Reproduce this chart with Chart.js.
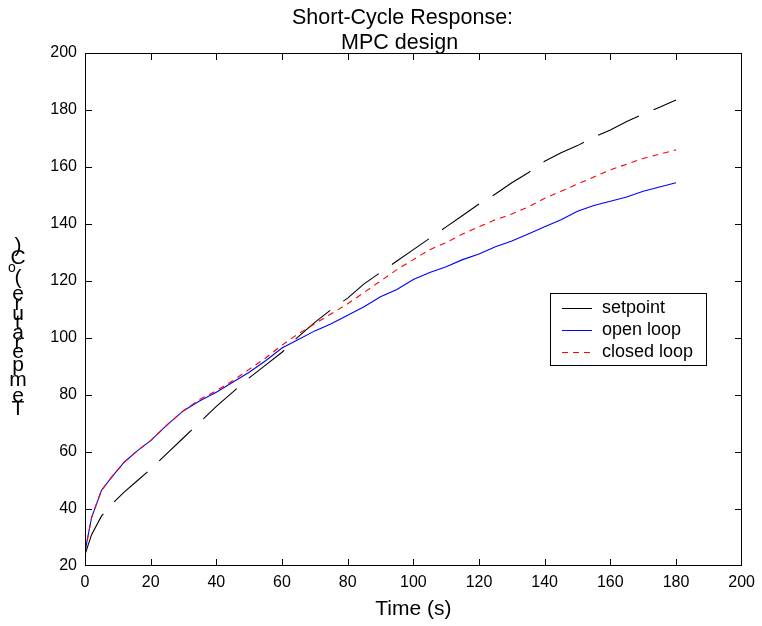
<!DOCTYPE html>
<html>
<head>
<meta charset="utf-8">
<script src="https://cdn.jsdelivr.net/npm/chart.js@4/dist/chart.umd.min.js"></script>
<style>
  html, body { margin: 0; padding: 0; background: #fff; }
  #wrap { width: 762px; height: 626px; }
</style>
</head>
<body>
<div id="wrap"><canvas id="c" width="762" height="626"></canvas></div>
<script>
// ---- data ----
const titleLines = ["Short-Cycle Response:", "MPC design"];
const xLabel = "Time (s)";
const yLabelParts = ["Temperature (", "o", "C)"]; // "o" is superscript
const seriesNames = ["setpoint", "open loop", "closed loop"];
const time = [0,2,5,8,12,16,20,25,30,35,40,45,50,55,60,65,70,75,80,85,90,95,100,105,110,115,120,125,130,135,140,145,150,155,160,165,170,175,180];
const setpoint = [24,31,37.5,41.5,46,50,54,59.5,65,70.5,76,81,86,90.5,95,100.5,105.5,110,114,119,123,127,131,135,139,143,147,150.5,154.5,158,162,165,167.5,170.5,173,176,178.5,181,183.5];
const openLoop = [25,37,46.5,51,56.5,60.5,64,69.5,74.5,78,81,84.5,88,92,96.5,99.5,102.5,105,108,111,114.5,117,120.5,123,125,127.5,129.5,132,134,136.5,139,141.5,144.5,146.5,148,149.5,151.5,153,154.5];
const closedLoop = [25,37,46.5,51,56.5,60.5,64,69.5,74.5,78.5,81.5,85,89,93,97.5,101.5,105,108.5,112,116,120,124,127.5,131,133.5,136.5,139,141.5,143.5,146,149,151.5,154,156.5,159,161,163,164.5,166];
const xTicks = [0,20,40,60,80,100,120,140,160,180,200];
const yTicks = [20,40,60,80,100,120,140,160,180,200];

const FONT = '"Liberation Sans", Arial, sans-serif';
const pts = (ys) => time.map((t, i) => ({ x: t, y: ys[i] }));

const framePlugin = {
  id: 'frame',
  afterDraw(chart) {
    const ctx = chart.ctx;
    const a = chart.chartArea;
    const xs = chart.scales.x, ys = chart.scales.y;
    const L = Math.round(a.left) + 0.5, R = Math.round(a.right) - 0.5;
    const T = Math.round(a.top) + 0.5, B = Math.round(a.bottom) - 0.5;
    ctx.save();
    ctx.strokeStyle = '#000';
    ctx.lineWidth = 1;
    ctx.setLineDash([]);
    ctx.strokeRect(L, T, R - L, B - T);
    const tl = 6.5;
    ctx.beginPath();
    xTicks.forEach(v => {
      let px = Math.round(xs.getPixelForValue(v)) + 0.5;
      px = Math.max(L, Math.min(R, px));
      ctx.moveTo(px, B); ctx.lineTo(px, B - tl);
      ctx.moveTo(px, T); ctx.lineTo(px, T + tl);
    });
    yTicks.forEach(v => {
      let py = Math.round(ys.getPixelForValue(v)) + 0.5;
      py = Math.max(T, Math.min(B, py));
      ctx.moveTo(L, py); ctx.lineTo(L + tl, py);
      ctx.moveTo(R, py); ctx.lineTo(R - tl, py);
    });
    ctx.stroke();

    // title
    ctx.fillStyle = '#000';
    ctx.textAlign = 'left';
    ctx.textBaseline = 'alphabetic';
    ctx.font = '21.5px ' + FONT;
    ctx.fillText(titleLines[0], 292, 23.5);
    ctx.fillText(titleLines[1], 341, 48.5);

    // x label
    ctx.textAlign = 'center';
    ctx.font = '21px ' + FONT;
    ctx.fillText(xLabel, (a.left + a.right) / 2, 615);

    // y label: upright glyphs stacked along a vertical line (as in reference)
    const glyphs = [];
    for (const ch of yLabelParts[0]) glyphs.push({ ch, size: 21, dx: 0 });
    for (const ch of yLabelParts[1]) glyphs.push({ ch, size: 14, dx: -6 });
    for (const ch of yLabelParts[2]) glyphs.push({ ch, size: 21, dx: 0 });
    let y = 414;
    const cx = 18;
    glyphs.forEach(g => {
      ctx.font = g.size + 'px ' + FONT;
      const w = ctx.measureText(g.ch).width * 1.06;
      const yc = y - w / 2;
      ctx.textAlign = 'center';
      ctx.textBaseline = 'alphabetic';
      ctx.fillText(g.ch, cx + g.dx, yc + (g.size === 21 ? 7.5 : 3));
      y -= w;
    });

    // legend
    const bx = 550.5, by = 293.5, bw = 156, bh = 72;
    ctx.fillStyle = '#fff';
    ctx.fillRect(bx, by, bw, bh);
    ctx.strokeStyle = '#000';
    ctx.lineWidth = 1;
    ctx.strokeRect(bx, by, bw, bh);
    const rows = [308, 330, 352];
    chart.data.datasets.forEach((ds, i) => {
      ctx.strokeStyle = ds.borderColor;
      ctx.lineWidth = 1;
      ctx.setLineDash(i === 2 ? [6, 5] : []);
      ctx.beginPath();
      ctx.moveTo(562, rows[i] + 0.5);
      ctx.lineTo(592, rows[i] + 0.5);
      ctx.stroke();
      ctx.setLineDash([]);
      ctx.fillStyle = '#000';
      ctx.font = '18px ' + FONT;
      ctx.textAlign = 'left';
      ctx.textBaseline = 'middle';
      ctx.fillText(ds.label, 602, rows[i]);
    });
    ctx.restore();
  }
};

new Chart(document.getElementById('c'), {
  type: 'line',
  data: {
    datasets: [
      { label: seriesNames[0], data: pts(setpoint), borderColor: '#000000', borderWidth: 1.1, borderDash: [45, 16], pointRadius: 0, tension: 0, order: 1 },
      { label: seriesNames[1], data: pts(openLoop), borderColor: '#0000ff', borderWidth: 1.1, pointRadius: 0, tension: 0, order: 2 },
      { label: seriesNames[2], data: pts(closedLoop), borderColor: '#ff0000', borderWidth: 1.1, borderDash: [6, 5], pointRadius: 0, tension: 0, order: 0 }
    ]
  },
  options: {
    responsive: false,
    devicePixelRatio: 1,
    animation: false,
    layout: { padding: { top: 53, right: 20, bottom: 0, left: 0 } },
    plugins: { legend: { display: false }, title: { display: false }, tooltip: { enabled: false } },
    scales: {
      x: {
        type: 'linear', min: 0, max: 200,
        afterFit(s) { s.height = 60; },
        afterBuildTicks(s) { s.ticks = xTicks.map(v => ({ value: v })); },
        grid: { display: false, drawTicks: false },
        border: { display: false },
        ticks: { color: '#000', font: { family: FONT, size: 16 }, padding: 7, maxRotation: 0, autoSkip: false }
      },
      y: {
        type: 'linear', min: 20, max: 200,
        afterFit(s) { s.width = 85; },
        afterBuildTicks(s) { s.ticks = yTicks.map(v => ({ value: v })); },
        grid: { display: false, drawTicks: false },
        border: { display: false },
        ticks: { color: '#000', font: { family: FONT, size: 16 }, padding: 8, autoSkip: false }
      }
    }
  },
  plugins: [framePlugin]
});
</script>
</body>
</html>
